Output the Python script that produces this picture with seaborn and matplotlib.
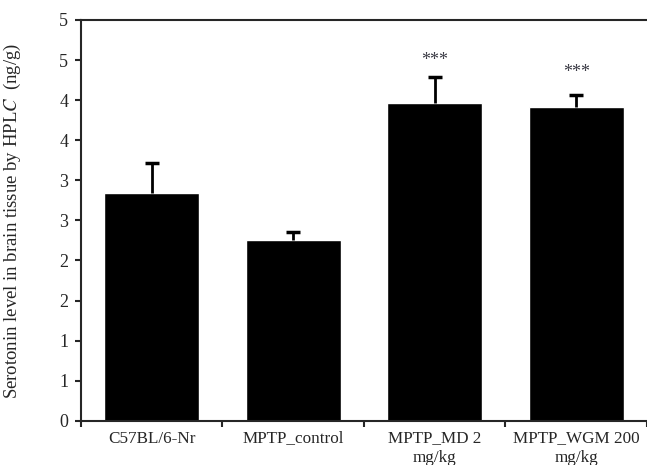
import numpy as np
import pandas as pd
import matplotlib
matplotlib.use("Agg")
import matplotlib.pyplot as plt
import seaborn as sns

groups = ["C57BL/6-Nr", "MPTP_control", "MPTP_MD 2\nmg/kg", "MPTP_WGM 200\nmg/kg"]
means = [2.84, 2.26, 3.96, 3.92]
errs = [0.37, 0.09, 0.33, 0.15]
stars = ["", "", "***", "***"]
star_y = [0, 0, 4.49, 4.35]

sns.set_style("ticks")
plt.rcParams["font.family"] = ["Liberation Serif", "DejaVu Serif"]
plt.rcParams["mathtext.fontset"] = "stix"

df = pd.DataFrame({"group": groups, "mean": means})

fig = plt.figure(figsize=(6.47, 4.65), dpi=100)
ax = fig.add_axes([0.125, 0.095, 0.875, 0.862])
sns.barplot(data=df, x="group", y="mean", color="black", width=0.67,
            errorbar=None, ax=ax, saturation=1)
eb = ax.errorbar(np.arange(len(groups)), means, yerr=[np.zeros(len(errs)), errs],
                 fmt="none", ecolor="black", elinewidth=2, capsize=5, capthick=2.5)
eb[1][0].set_visible(False)  # no lower cap
for i, s in enumerate(stars):
    if s:
        ax.text(i, star_y[i], s, ha="center", va="center", fontsize=13, color="#3a3a44")

ax.set_xlim(-0.5, 3.5)
ax.set_ylim(0, 5)
yt = np.arange(0, 5.01, 0.5)
ax.set_yticks(yt)
ax.set_yticklabels([str(int(v + 0.5)) for v in yt], fontsize=13)
ax.set_xticks(np.arange(4))
ax.set_xticklabels(groups, fontsize=12.3, linespacing=1.3)
ax.tick_params(axis="x", which="major", length=0, pad=7)
ax.set_xticks(np.arange(-0.5, 3.6, 1), minor=True)
ax.tick_params(axis="x", which="minor", length=4, width=1.5, direction="out")
ax.tick_params(axis="y", length=4, width=1.5, direction="out", pad=5)
ax.set_xlabel("")
ax.set_ylabel("Serotonin level in brain tissue by HPL$\\it{C}$  (ng/g)", fontsize=13.5, labelpad=26)
for sp in ["left", "bottom", "top"]:
    ax.spines[sp].set_linewidth(1.5)
ax.spines["right"].set_visible(False)

fig.savefig("out.png", dpi=100)
